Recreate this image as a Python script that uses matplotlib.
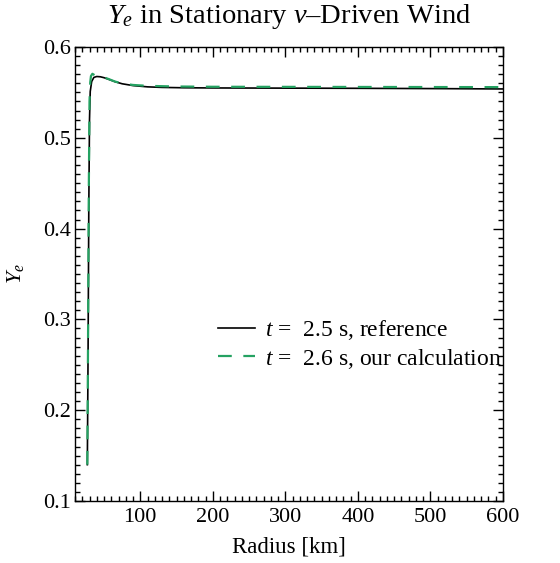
import matplotlib
matplotlib.use("Agg")
import matplotlib.pyplot as plt
from matplotlib.ticker import MultipleLocator

plt.rcParams["font.family"] = ["Liberation Serif", "DejaVu Serif"]
plt.rcParams["mathtext.fontset"] = "custom"
plt.rcParams["mathtext.rm"] = "Liberation Serif"
plt.rcParams["mathtext.it"] = "Liberation Serif:italic"

# Reference profile, t = 2.5 s
r_ref = [27, 28, 29, 30, 31, 33, 36, 40, 45, 50, 55, 65, 75, 90, 110,
         130, 160, 200, 300, 400, 500, 600]
ye_ref = [0.14, 0.26, 0.42, 0.52, 0.551, 0.562, 0.5665, 0.5675, 0.5672,
          0.5662, 0.5648, 0.5618, 0.5595, 0.5575, 0.5561, 0.5555, 0.5551,
          0.5549, 0.5547, 0.5545, 0.5542, 0.5538]

# Our calculation, t = 2.6 s
r_calc = [27, 28, 29, 30, 31, 32, 34, 37, 42, 47, 52, 58, 65, 75, 90, 110,
          150, 200, 300, 400, 500, 600]
ye_calc = [0.14, 0.28, 0.44, 0.54, 0.561, 0.568, 0.5705, 0.569, 0.5675,
           0.5668, 0.566, 0.5642, 0.562, 0.5598, 0.5582, 0.5572, 0.5565,
           0.5562, 0.5561, 0.556, 0.5559, 0.5558]

label_ref = "$t$ =  2.5 s, reference"
label_calc = "$t$ =  2.6 s, our calculation"

W, H = 560, 563
fig = plt.figure(figsize=(W / 100, H / 100), dpi=100)
ax = fig.add_axes([75 / W, 1 - 501 / H, 428 / W, 454 / H])

ax.plot(r_ref, ye_ref, color="black", lw=1.2, label=label_ref)
ax.plot(r_calc, ye_calc, color="#25a262", lw=1.6, dashes=(6.2, 5.2),
        label=label_calc)

ax.set_xlim(10, 600)
ax.set_ylim(0.1, 0.6)
ax.xaxis.set_major_locator(MultipleLocator(100))
ax.xaxis.set_minor_locator(MultipleLocator(10))
ax.yaxis.set_major_locator(MultipleLocator(0.1))
ax.yaxis.set_minor_locator(MultipleLocator(0.01))
ax.tick_params(which="both", direction="in", top=True, right=True,
               labelsize=16, width=1)
ax.tick_params(axis="x", which="major", pad=5)
ax.tick_params(axis="y", which="major", pad=3)
ax.tick_params(which="major", length=7)
ax.tick_params(which="minor", length=3.5)
ax.set_xticks([100, 200, 300, 400, 500, 600])
ax.set_xticklabels(["100", "200", "300", "400", "500", "600"])
ax.set_yticks([0.1, 0.2, 0.3, 0.4, 0.5, 0.6])
ax.set_yticklabels(["0.1", "0.2", "0.3", "0.4", "0.5", "0.6"])
for s in ax.spines.values():
    s.set_linewidth(1)

ax.set_title("$Y_e$ in Stationary $\\nu$\u2013Driven Wind", fontsize=20.5, pad=17)
ax.set_xlabel("Radius [km]", fontsize=16.5, labelpad=7)
ax.set_ylabel("$Y_e$", fontsize=16, labelpad=12)

ax.legend(loc="center left", bbox_to_anchor=(0.334, 0.345), frameon=False,
          fontsize=17, handlelength=1.57, handletextpad=0.42,
          labelspacing=0.2, borderpad=0, borderaxespad=0)

fig.savefig("out.png", dpi=100)
